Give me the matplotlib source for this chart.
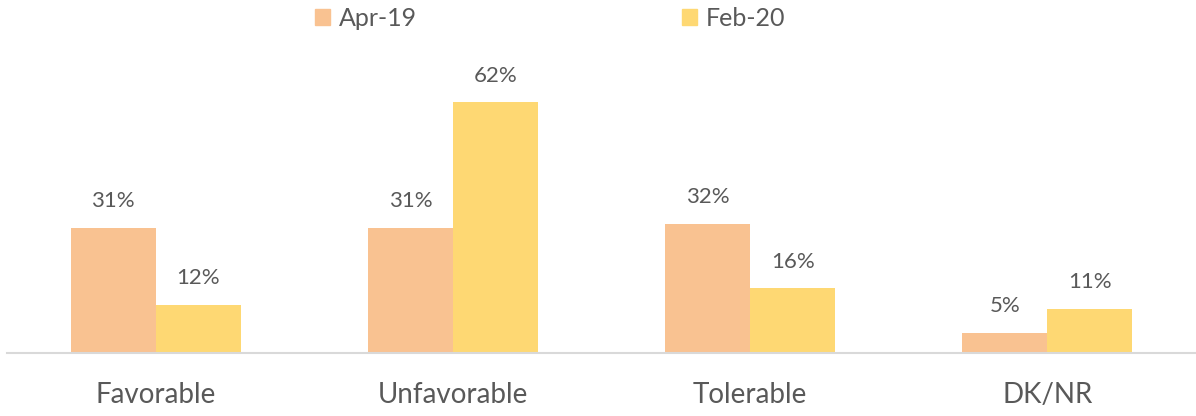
import matplotlib
matplotlib.use("Agg")
import matplotlib.pyplot as plt
import numpy as np
from matplotlib.patches import Patch

categories = ["Favorable", "Unfavorable", "Tolerable", "DK/NR"]
apr19 = [31, 31, 32, 5]
feb20 = [12, 62, 16, 11]
series_names = ["Apr-19", "Feb-20"]

c_apr = "#F9C291"
c_feb = "#FED873"
txt = "#595959"

plt.rcParams['font.family'] = ['Lato', 'DejaVu Sans']

fig = plt.figure(figsize=(11.96, 4.16), dpi=100)
ax = fig.add_axes([7/1196, 63/416, 1189/1196, 293/416])

x = np.arange(len(categories))
w = 0.286
b1 = ax.bar(x - w/2, apr19, w, color=c_apr)
b2 = ax.bar(x + w/2, feb20, w, color=c_feb)

for bars, vals in ((b1, apr19), (b2, feb20)):
    for r, v in zip(bars, vals):
        ax.annotate(f"{v}%", (r.get_x() + r.get_width()/2, v), xytext=(0, 19),
                    textcoords="offset points", ha="center", va="center",
                    fontsize=16, color=txt)

ax.set_xlim(-0.5, 3.5)
ax.set_ylim(0, 72.5)
ax.set_xticks(x)
ax.set_xticklabels(categories, fontsize=20, color=txt)
ax.tick_params(axis='x', length=0, pad=21)
ax.set_yticks([])
for s in ("top", "right", "left"):
    ax.spines[s].set_visible(False)
ax.spines["bottom"].set_color("#D9D9D9")
ax.spines["bottom"].set_linewidth(1.5)

handles = [Patch(color=c_apr), Patch(color=c_feb)]
leg = fig.legend(handles, series_names, loc="upper center", bbox_to_anchor=(550/1196, 1.02),
                 ncol=2, frameon=False, fontsize=18, handlelength=0.6, handleheight=0.6,
                 handletextpad=0.35, columnspacing=10.6, borderaxespad=0.2)
for t in leg.get_texts():
    t.set_color(txt)

fig.savefig("out.png", dpi=100)
